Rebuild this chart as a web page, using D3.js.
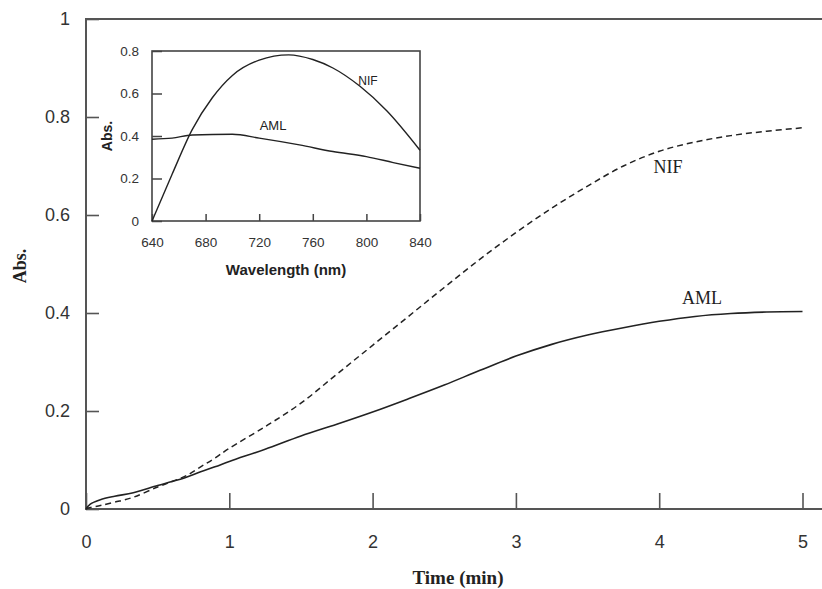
<!DOCTYPE html>
<html>
<head>
<meta charset="utf-8">
<script src="https://cdn.jsdelivr.net/npm/d3@7"></script>
<style>
  body { margin: 0; background: #fff; }
</style>
</head>
<body>
<div id="chart"></div>
<script>
// main kinetic curves: time (min) vs absorbance
var timeMin = [0, 0.03, 0.1, 0.2, 0.33, 0.5, 0.6, 0.7, 0.8, 0.9, 1.0, 1.25, 1.5, 1.75, 2.0, 2.25, 2.5, 2.75, 3.0, 3.25, 3.5, 3.75, 4.0, 4.25, 4.5, 4.75, 5.0];
var amlAbs = [0, 0.01, 0.019, 0.026, 0.033, 0.048, 0.056, 0.065, 0.076, 0.086, 0.097, 0.122, 0.149, 0.173, 0.198, 0.225, 0.253, 0.283, 0.312, 0.336, 0.355, 0.37, 0.383, 0.393, 0.399, 0.402, 0.403];
var nifAbs = [0, 0.003, 0.007, 0.014, 0.024, 0.045, 0.056, 0.068, 0.086, 0.104, 0.124, 0.168, 0.216, 0.275, 0.334, 0.393, 0.452, 0.51, 0.564, 0.614, 0.659, 0.7, 0.73, 0.749, 0.762, 0.771, 0.778];
var timeTicks = [0, 1, 2, 3, 4, 5];
var absTicks = [0, 0.2, 0.4, 0.6, 0.8, 1];

// inset spectra: wavelength (nm) vs absorbance
var nifWave = [640, 655, 670, 685, 700, 720, 742, 760, 775, 795, 815, 840];
var nifSpec = [0, 0.22, 0.43, 0.58, 0.685, 0.757, 0.782, 0.76, 0.72, 0.635, 0.52, 0.333];
var amlWave = [640, 655, 670, 700, 720, 750, 775, 800, 820, 840];
var amlSpec = [0.385, 0.39, 0.405, 0.408, 0.39, 0.358, 0.327, 0.303, 0.275, 0.248];
var waveTicks = [640, 680, 720, 760, 800, 840];
var specTicks = [0, 0.2, 0.4, 0.6, 0.8];

var W = 822, H = 589;
var svg = d3.select("#chart").append("svg")
    .attr("width", W)
    .attr("height", H)
    .style("background", "#fff");

var axisColor = "#555";
var lineColor = "#222";

// ---- main chart
var x = d3.scaleLinear().domain([0, 5]).range([86, 802.5]);
var y = d3.scaleLinear().domain([0, 1]).range([509, 19]);

var gx = svg.append("g")
    .attr("transform", "translate(0," + y(0) + ")")
    .call(d3.axisBottom(x).tickValues(timeTicks).tickSize(-16).tickPadding(26).tickFormat(d3.format("d")));
var gy = svg.append("g")
    .attr("transform", "translate(" + x(0) + ",0)")
    .call(d3.axisLeft(y).tickValues(absTicks).tickSize(-13).tickPadding(16).tickFormat(function(d) { return String(d); }));

[gx, gy].forEach(function(g) {
  g.select(".domain").remove();
  g.selectAll(".tick line").attr("stroke", axisColor).attr("stroke-width", 1.6);
  g.selectAll(".tick text")
    .attr("fill", "#333")
    .style("font-family", "'Liberation Sans', Arial, sans-serif")
    .style("font-size", "18px");
});

// frame: left, top, bottom (runs off the right edge)
svg.append("path")
    .attr("d", "M" + W + "," + y(1) + "H" + x(0) + "V" + y(0) + "H" + W)
    .attr("fill", "none")
    .attr("stroke", axisColor)
    .attr("stroke-width", 2);

var line = d3.line()
    .x(function(d) { return x(d[0]); })
    .y(function(d) { return y(d[1]); })
    .curve(d3.curveCatmullRom);

svg.append("path")
    .datum(d3.zip(timeMin, nifAbs))
    .attr("d", line)
    .attr("fill", "none")
    .attr("stroke", lineColor)
    .attr("stroke-width", 1.5)
    .attr("stroke-dasharray", "6,4");

svg.append("path")
    .datum(d3.zip(timeMin, amlAbs))
    .attr("d", line)
    .attr("fill", "none")
    .attr("stroke", lineColor)
    .attr("stroke-width", 1.6);

var serif = "'Liberation Serif', 'Times New Roman', serif";

svg.append("text")
    .attr("x", 668).attr("y", 173)
    .attr("text-anchor", "middle")
    .style("font-family", serif).style("font-size", "18px")
    .attr("fill", "#222")
    .text("NIF");
svg.append("text")
    .attr("x", 702).attr("y", 304)
    .attr("text-anchor", "middle")
    .style("font-family", serif).style("font-size", "18px")
    .attr("fill", "#222")
    .text("AML");

svg.append("text")
    .attr("x", 458).attr("y", 584)
    .attr("text-anchor", "middle")
    .style("font-family", serif).style("font-size", "19px").style("font-weight", "bold")
    .attr("fill", "#222")
    .text("Time (min)");
svg.append("text")
    .attr("transform", "translate(26,266) rotate(-90)")
    .attr("text-anchor", "middle")
    .style("font-family", serif).style("font-size", "18px").style("font-weight", "bold")
    .attr("fill", "#222")
    .text("Abs.");

// ---- inset
var ix = d3.scaleLinear().domain([640, 840]).range([152, 420]);
var iy = d3.scaleLinear().domain([0, 0.8]).range([221, 51]);
var sans = "'Liberation Sans', Arial, sans-serif";

var inset = svg.append("g");

var igx = inset.append("g")
    .attr("transform", "translate(0," + iy(0) + ")")
    .call(d3.axisBottom(ix).tickValues(waveTicks).tickSize(-7).tickPadding(16).tickFormat(d3.format("d")));
var igy = inset.append("g")
    .attr("transform", "translate(" + ix(640) + ",0)")
    .call(d3.axisLeft(iy).tickValues(specTicks).tickSize(-10).tickPadding(13).tickFormat(function(d) { return String(d); }));

[igx, igy].forEach(function(g) {
  g.select(".domain").remove();
  g.selectAll(".tick line").attr("stroke", "#444").attr("stroke-width", 1.5);
  g.selectAll(".tick text")
    .attr("fill", "#333")
    .style("font-family", sans)
    .style("font-size", "13.5px");
});

inset.append("rect")
    .attr("x", ix(640)).attr("y", iy(0.8))
    .attr("width", ix(840) - ix(640))
    .attr("height", iy(0) - iy(0.8))
    .attr("fill", "none")
    .attr("stroke", "#444")
    .attr("stroke-width", 1.6);

var iline = d3.line()
    .x(function(d) { return ix(d[0]); })
    .y(function(d) { return iy(d[1]); })
    .curve(d3.curveMonotoneX);

inset.append("path")
    .datum(d3.zip(nifWave, nifSpec))
    .attr("d", iline)
    .attr("fill", "none")
    .attr("stroke", lineColor)
    .attr("stroke-width", 1.4);
inset.append("path")
    .datum(d3.zip(amlWave, amlSpec))
    .attr("d", iline)
    .attr("fill", "none")
    .attr("stroke", lineColor)
    .attr("stroke-width", 1.4);

inset.append("text")
    .attr("x", 368).attr("y", 85)
    .attr("text-anchor", "middle")
    .style("font-family", sans).style("font-size", "12px")
    .attr("fill", "#222")
    .text("NIF");
inset.append("text")
    .attr("x", 273).attr("y", 129.5)
    .attr("text-anchor", "middle")
    .style("font-family", sans).style("font-size", "13px")
    .attr("fill", "#222")
    .text("AML");

inset.append("text")
    .attr("x", 286).attr("y", 275)
    .attr("text-anchor", "middle")
    .style("font-family", sans).style("font-size", "15px").style("font-weight", "bold")
    .attr("fill", "#222")
    .text("Wavelength (nm)");
inset.append("text")
    .attr("transform", "translate(112,136) rotate(-90)")
    .attr("text-anchor", "middle")
    .style("font-family", sans).style("font-size", "14px").style("font-weight", "bold")
    .attr("fill", "#222")
    .text("Abs.");
</script>
</body>
</html>
